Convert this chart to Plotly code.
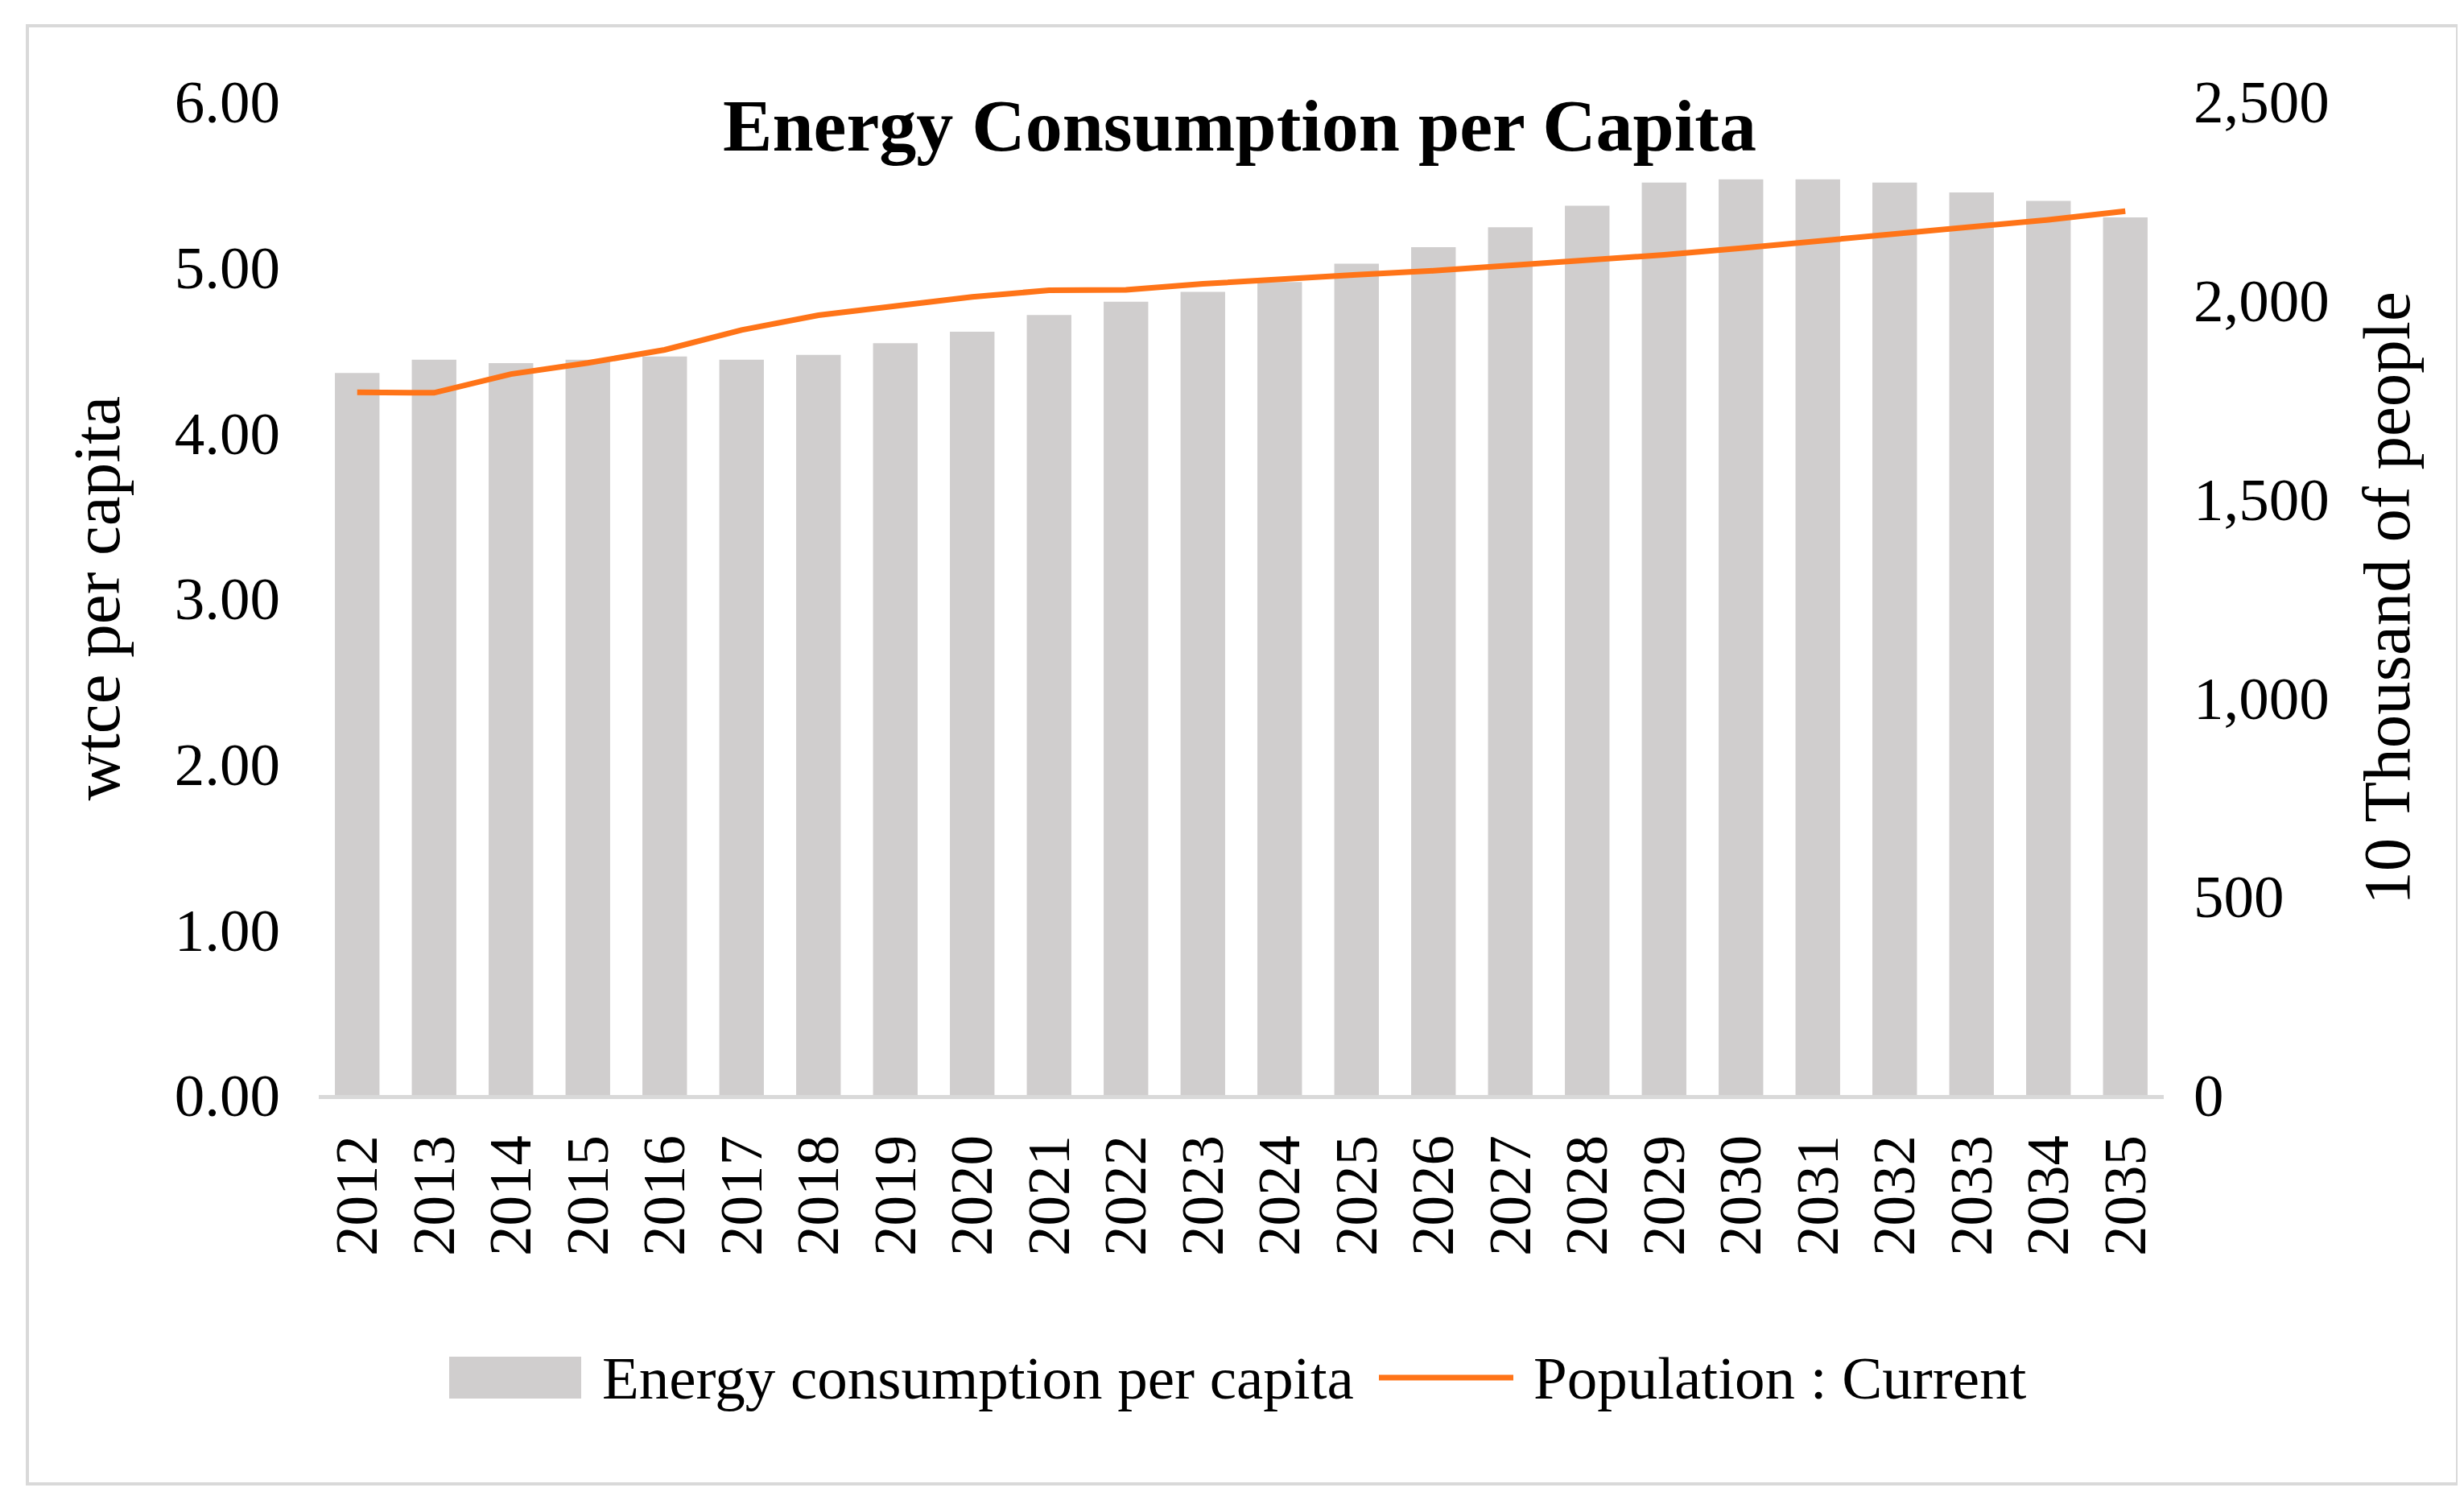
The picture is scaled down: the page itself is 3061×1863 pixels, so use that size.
import plotly.graph_objects as go

# ---- data ----
years = [str(y) for y in range(2012, 2036)]
energy_per_capita = [4.36, 4.44, 4.42, 4.44, 4.46, 4.44, 4.47, 4.54, 4.61, 4.71,
                     4.79, 4.85, 4.91, 5.02, 5.12, 5.24, 5.37, 5.51, 5.53, 5.53,
                     5.51, 5.45, 5.40, 5.30]
population = [1768, 1767, 1814, 1842, 1875, 1925, 1962, 1986, 2008, 2025,
              2026, 2041, 2054, 2064, 2074, 2087, 2101, 2114, 2131, 2148,
              2165, 2182, 2202, 2224]
left_ticks = [0, 1, 2, 3, 4, 5, 6]
right_ticks = [0, 500, 1000, 1500, 2000, 2500]

# ---- layout constants (pixels) ----
W, H = 3061, 1863
PL, PR, PT, PB = 388, 2680, 118, 1352
FONT = "Liberation Serif, Times New Roman, serif"
BAR_COLOR = "#d0cece"
LINE_COLOR = "#ff7418"


def px_x(x):
    return (x - PL) / (PR - PL)


def px_y(y):
    return (PB - y) / (PB - PT)


fig = go.Figure()
fig.add_trace(go.Bar(x=years, y=energy_per_capita, name="Energy consumption per capita",
                     marker=dict(color=BAR_COLOR, line=dict(width=0)), yaxis="y"))
fig.add_trace(go.Scatter(x=years, y=population, name="Population : Current", mode="lines",
                         line=dict(color=LINE_COLOR, width=7), yaxis="y2"))

fig.update_layout(
    width=W, height=H,
    margin=dict(l=PL, r=W - PR, t=PT, b=H - PB, autoexpand=False),
    paper_bgcolor="white", plot_bgcolor="white",
    font=dict(family=FONT, size=75, color="black"),
    showlegend=False,
    bargap=0.42,
    title=dict(text="<b>Energy Consumption per Capita</b>", x=0.5005, xanchor="center",
               y=1 - 147 / H, yanchor="middle", yref="container",
               font=dict(family=FONT, size=92, color="black")),
    xaxis=dict(type="category", tickangle=-90, showgrid=False, zeroline=False,
               showline=True, linecolor="#d9d9d9", linewidth=5, ticks="",
               ticklabelstandoff=15, tickfont=dict(size=75), automargin=False),
    yaxis=dict(range=[0, 6], tickvals=left_ticks, tickformat=".2f", showgrid=False,
               zeroline=False, showline=False, ticks="", ticklabelstandoff=47,
               title=dict(text="wtce per capita", font=dict(size=83), standoff=40),
               automargin=False),
    yaxis2=dict(range=[0, 2500], tickvals=right_ticks, tickformat=",d", overlaying="y",
                side="right", showgrid=False, zeroline=False, showline=False, ticks="",
                ticklabelstandoff=36,
                title=dict(text="10 Thousand of people", font=dict(size=83), standoff=42),
                automargin=False),
)

# outer border
fig.add_shape(type="rect", xref="paper", yref="paper",
              x0=px_x(26), x1=px_x(3045), y0=px_y(1835), y1=px_y(24),
              line=dict(color="#d9d9d9", width=4), fillcolor="rgba(0,0,0,0)", layer="below")

# custom legend
leg_y = px_y(1703)
fig.add_shape(type="rect", xref="paper", yref="paper",
              x0=px_x(550), x1=px_x(714), y0=px_y(1729), y1=px_y(1677),
              line=dict(width=0), fillcolor=BAR_COLOR)
fig.add_shape(type="line", xref="paper", yref="paper",
              x0=px_x(1705), x1=px_x(1872), y0=leg_y, y1=leg_y,
              line=dict(color=LINE_COLOR, width=7))
fig.add_annotation(xref="paper", yref="paper", x=px_x(738), y=leg_y, xanchor="left",
                   yanchor="middle", text="Energy consumption per capita", showarrow=False,
                   font=dict(size=75, family=FONT, color="black"))
fig.add_annotation(xref="paper", yref="paper", x=px_x(1895), y=leg_y, xanchor="left",
                   yanchor="middle", text="Population : Current", showarrow=False,
                   font=dict(size=75, family=FONT, color="black"))

fig.write_html("out.html")
